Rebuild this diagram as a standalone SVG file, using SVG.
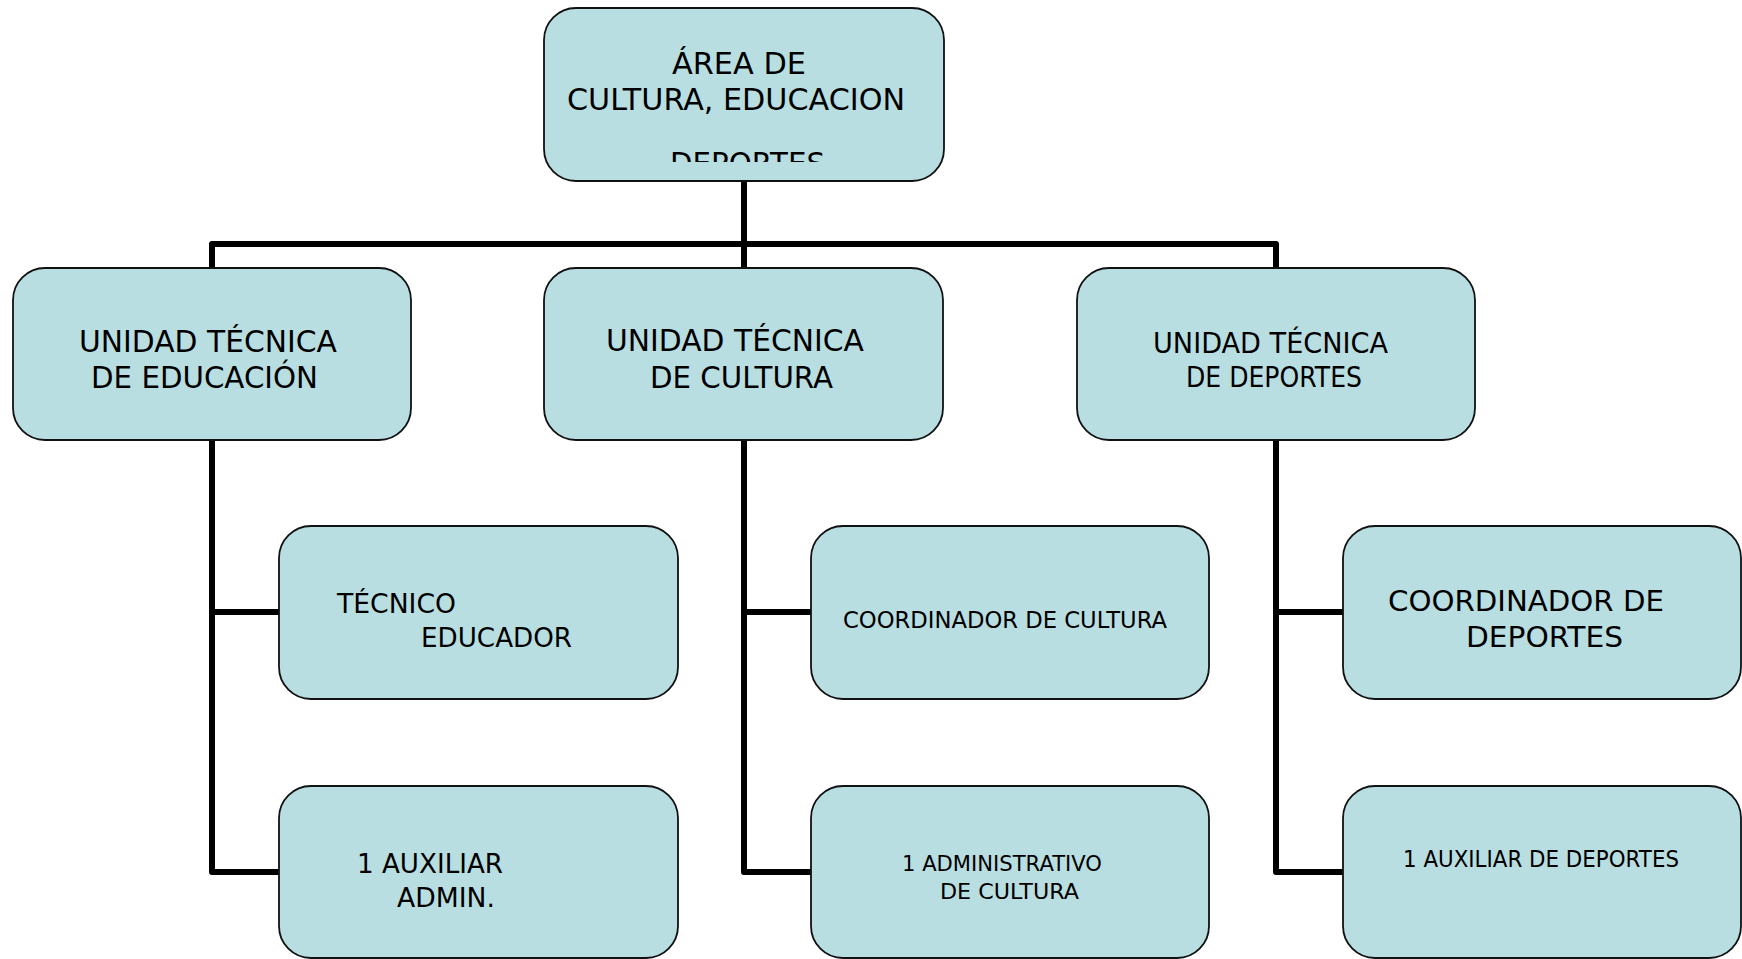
<svg xmlns="http://www.w3.org/2000/svg" width="1742" height="959" viewBox="0 0 1742 959">
  <style>
    .box { fill: #B8DEE1; stroke: #111; stroke-width: 1.8; }
    .lbl { font-family: "DejaVu Sans", "Liberation Sans", sans-serif; fill: #000; }
    .conn { fill: none; stroke: #000; stroke-width: 6; stroke-linejoin: round; stroke-linecap: butt; }
  </style>
  <defs>
    <clipPath id="clipTop">
      <rect x="544" y="8" width="400" height="154"/>
    </clipPath>
  </defs>
  <rect width="1742" height="959" fill="#fff"/>

  <g id="connectors">
    <path class="conn" d="M744 181 V268"/>
    <path class="conn" d="M212 268 V244 H1276 V268"/>
    <path class="conn" d="M212 440 V872 H279"/>
    <path class="conn" d="M212 612 H279"/>
    <path class="conn" d="M744 440 V872 H811"/>
    <path class="conn" d="M744 612 H811"/>
    <path class="conn" d="M1276 440 V872 H1343"/>
    <path class="conn" d="M1276 612 H1343"/>
  </g>

  <g id="node-area">
    <rect class="box" x="544" y="8" width="400" height="173" rx="32"/>
    <g clip-path="url(#clipTop)">
      <text class="lbl" font-size="30.5" x="672" y="74" textLength="134" lengthAdjust="spacingAndGlyphs">ÁREA DE</text>
      <text class="lbl" font-size="30.5" x="567" y="110" textLength="338" lengthAdjust="spacingAndGlyphs">CULTURA,  EDUCACION</text>
      <text class="lbl" font-size="30.5" x="670" y="174" textLength="155" lengthAdjust="spacingAndGlyphs">DEPORTES</text>
    </g>
  </g>

  <g id="node-ut-educacion">
    <rect class="box" x="13" y="268" width="398" height="172" rx="32"/>
    <text class="lbl" font-size="31" x="79" y="352" textLength="258" lengthAdjust="spacingAndGlyphs">UNIDAD  TÉCNICA</text>
    <text class="lbl" font-size="31" x="91" y="388" textLength="227" lengthAdjust="spacingAndGlyphs">DE  EDUCACIÓN</text>
  </g>

  <g id="node-ut-cultura">
    <rect class="box" x="544" y="268" width="399" height="172" rx="32"/>
    <text class="lbl" font-size="31" x="606" y="351" textLength="258" lengthAdjust="spacingAndGlyphs">UNIDAD  TÉCNICA</text>
    <text class="lbl" font-size="31" x="650" y="388" textLength="183" lengthAdjust="spacingAndGlyphs">DE CULTURA</text>
  </g>

  <g id="node-ut-deportes">
    <rect class="box" x="1077" y="268" width="398" height="172" rx="32"/>
    <text class="lbl" font-size="27.5" x="1153" y="353" textLength="235" lengthAdjust="spacingAndGlyphs">UNIDAD TÉCNICA</text>
    <text class="lbl" font-size="27.5" x="1186" y="387" textLength="176" lengthAdjust="spacingAndGlyphs">DE DEPORTES</text>
  </g>

  <g id="node-tecnico-educador">
    <rect class="box" x="279" y="526" width="399" height="173" rx="32"/>
    <text class="lbl" font-size="26" x="337" y="613" textLength="119" lengthAdjust="spacingAndGlyphs">TÉCNICO</text>
    <text class="lbl" font-size="26" x="421" y="647" textLength="151" lengthAdjust="spacingAndGlyphs">EDUCADOR</text>
  </g>

  <g id="node-auxiliar-admin">
    <rect class="box" x="279" y="786" width="399" height="172" rx="32"/>
    <text class="lbl" font-size="26" x="357" y="873" textLength="146" lengthAdjust="spacingAndGlyphs">1 AUXILIAR</text>
    <text class="lbl" font-size="26" x="397" y="907" textLength="98" lengthAdjust="spacingAndGlyphs">ADMIN.</text>
  </g>

  <g id="node-coord-cultura">
    <rect class="box" x="811" y="526" width="398" height="173" rx="32"/>
    <text class="lbl" font-size="23" x="843" y="628" textLength="324" lengthAdjust="spacingAndGlyphs">COORDINADOR  DE  CULTURA</text>
  </g>

  <g id="node-admin-cultura">
    <rect class="box" x="811" y="786" width="398" height="172" rx="32"/>
    <text class="lbl" font-size="21.5" x="902" y="871" textLength="200" lengthAdjust="spacingAndGlyphs">1 ADMINISTRATIVO</text>
    <text class="lbl" font-size="21.5" x="940" y="899" textLength="139" lengthAdjust="spacingAndGlyphs">DE CULTURA</text>
  </g>

  <g id="node-coord-deportes">
    <rect class="box" x="1343" y="526" width="398" height="173" rx="32"/>
    <text class="lbl" font-size="27.5" x="1388" y="611" textLength="276" lengthAdjust="spacingAndGlyphs">COORDINADOR DE</text>
    <text class="lbl" font-size="27.5" x="1466" y="647" textLength="157" lengthAdjust="spacingAndGlyphs">DEPORTES</text>
  </g>

  <g id="node-aux-deportes">
    <rect class="box" x="1343" y="786" width="398" height="172" rx="32"/>
    <text class="lbl" font-size="22.5" x="1403" y="867" textLength="276" lengthAdjust="spacingAndGlyphs">1 AUXILIAR DE DEPORTES</text>
  </g>
</svg>
